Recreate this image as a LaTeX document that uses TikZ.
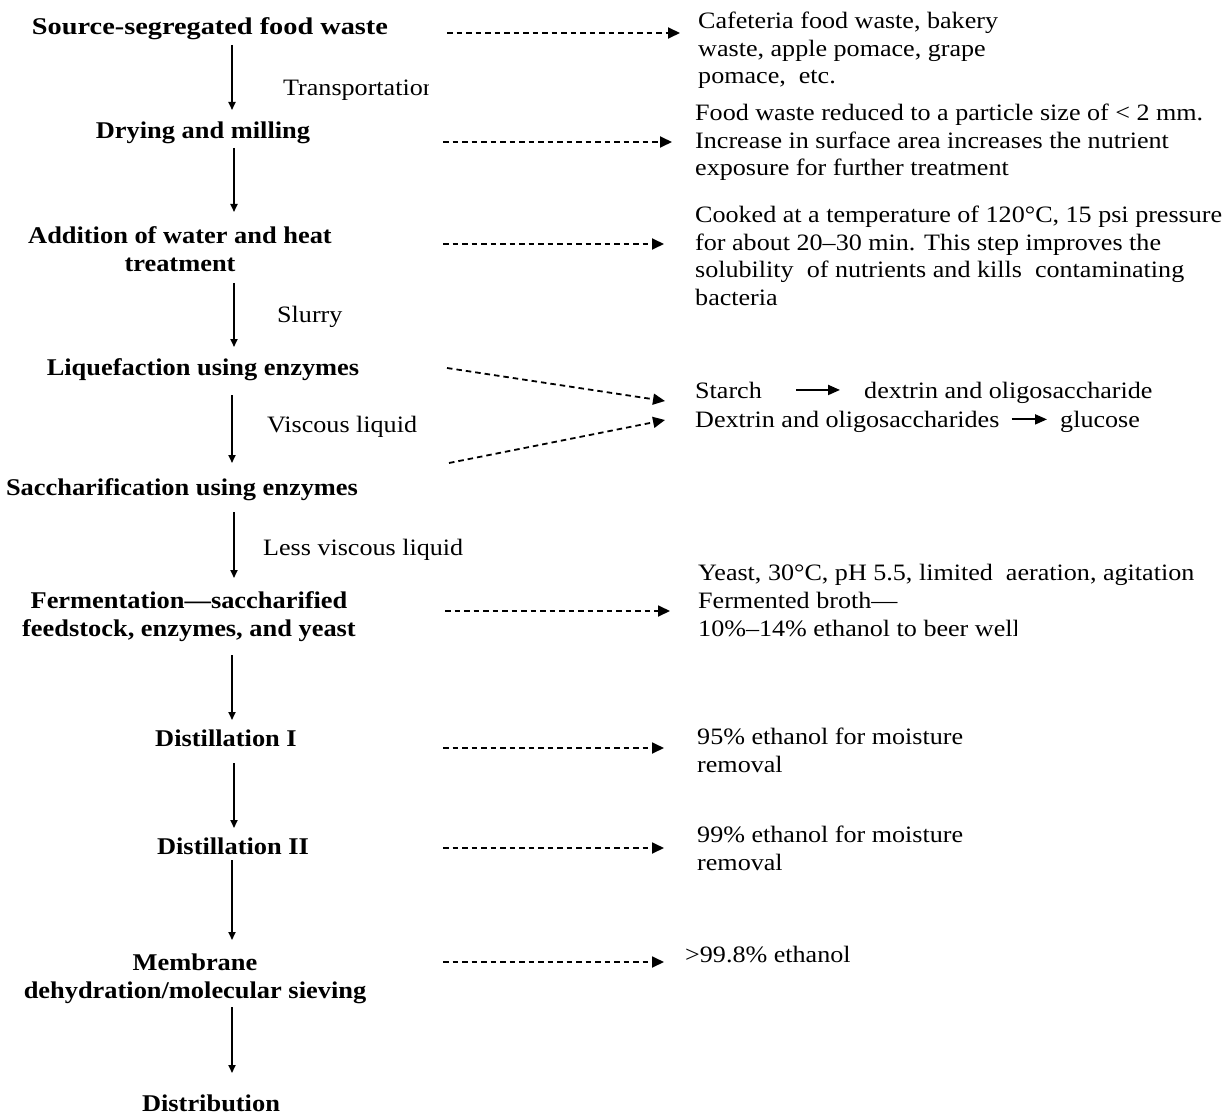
\documentclass[tikz,border=0pt]{standalone}
\usepackage{fontspec}
\setmainfont{Liberation Serif}
\newfontfamily\lfont[FakeStretch=1.10]{Liberation Serif}
\newfontfamily\lfontw[FakeStretch=1.18]{Liberation Serif}
\newfontfamily\rfont[FakeStretch=1.11]{Liberation Serif}
\usetikzlibrary{arrows.meta}
\begin{document}
\begin{tikzpicture}[x=1pt,y=-1pt,
  lbl/.style={font=\lfont\fontsize{24}{28}\selectfont\bfseries, align=center, inner sep=0pt},
  rtxt/.style={font=\rfont\fontsize{23.5}{27.6}\selectfont, align=left, inner sep=0pt, anchor=north west},
  elab/.style={font=\rfont\fontsize{23.5}{27}\selectfont, inner sep=0pt, anchor=base west},
  flow/.style={-{Triangle[length=8pt,width=7pt]}, line width=1.8pt},
  tflow/.style={-{Triangle[length=12pt,width=10pt]}, line width=2pt},
  dflow/.style={-{Triangle[length=12pt,width=11pt]}, line width=1.8pt, dash pattern=on 5.5pt off 4pt},
]
\useasboundingbox (0,0) rectangle (1231,1115);
\fill[white] (0,0) rectangle (1231,1115);

% left column
\node[lbl, font=\lfontw\fontsize{24}{28}\selectfont\bfseries] (n1) at (210,29) {Source-segregated food waste};
\node[lbl] (n2) at (203,133) {Drying and milling};
\node[lbl] (n3) at (180,249) {Addition of water and heat\\treatment};
\node[lbl] (n4) at (203,370) {Liquefaction using enzymes};
\node[lbl] (n5) at (182,490) {Saccharification using enzymes};
\node[lbl] (n6) at (189,617) {Fermentation—saccharified\\feedstock, enzymes, and yeast};
\node[lbl] (n7) at (226,738) {Distillation I};
\node[lbl] (n8) at (233,846) {Distillation II};
\node[lbl] (n9) at (195,979) {Membrane\\dehydration/molecular sieving};
\node[lbl] (n10) at (211,1103) {Distribution};

\coordinate (ax) at (232,0);
\coordinate (bx) at (234,0);

\draw[flow, shorten <=16pt, shorten >=23pt] (n1.center -| ax) -- (n2.center -| ax);
\draw[flow, shorten <=15pt, shorten >=37pt] (n2.center -| bx) -- (n3.center -| bx);
\draw[flow, shorten <=34pt, shorten >=23pt] (n3.center -| bx) -- (n4.center -| bx);
\draw[flow, shorten <=25pt, shorten >=27pt] (n4.center -| ax) -- (n5.center -| ax);
\draw[flow, shorten <=22pt, shorten >=39pt] (n5.center -| bx) -- (n6.center -| bx);
\draw[flow, shorten <=38pt, shorten >=18pt] (n6.center -| ax) -- (n7.center -| ax);
\draw[flow, shorten <=25pt, shorten >=18pt] (n7.center -| bx) -- (n8.center -| bx);
\draw[flow, shorten <=14pt, shorten >=39pt] (n8.center -| ax) -- (n9.center -| ax);
\draw[flow, shorten <=28pt, shorten >=30pt] (n9.center -| ax) -- (n10.center -| ax);

% arrow labels
\begin{scope}
\clip (270,60) rectangle (428,110);
\node[elab] (l1) at (283,96) {Transportation};
\end{scope}
\node[elab] (l2) at (277,322) {Slurry};
\node[elab] (l3) at (267,432) {Viscous liquid};
\node[elab] (l4) at (263,555) {Less viscous liquid};

% right column
\node[rtxt] (r1) at (698,12) {Cafeteria food waste, bakery\\waste, apple pomace, grape\\pomace,\ \ etc.};
\node[rtxt] (r2) at (695,104) {Food waste reduced to a particle size of < 2 mm.\\Increase in surface area increases the nutrient\\exposure for further treatment};
\begin{scope}
\clip (600,190) rectangle (1231,320);
\node[rtxt] (r3) at (695,206) {Cooked at a temperature of 120°C, 15 psi pressure\\for about 20–30 min. This step improves the\\solubility\ \ of nutrients and kills\ \ contaminating\\bacteria};
\end{scope}
\node[elab] (s1) at (695,398) {Starch};
\node[elab] (s2) at (864,398) {dextrin and oligosaccharide};
\node[elab] (s3) at (695,427) {Dextrin and oligosaccharides};
\node[elab] (s4) at (1060,427) {glucose};
\draw[tflow, shorten <=34pt, shorten >=24pt] (s1.east) -- (s2.west |- s1.east);
\draw[tflow, shorten <=12pt, shorten >=13pt] ([yshift=2pt]s3.east) -- ([yshift=2pt]s4.west);
\node[rtxt] (r5) at (698,564) {Yeast, 30°C, pH 5.5, limited\ \ aeration, agitation\\Fermented broth—};
\begin{scope}
\clip (600,612) rectangle (1016,650);
\node[elab] (r5b) at (698,636) {10\%–14\% ethanol to beer well};
\end{scope}
\node[rtxt] (r6) at (697,728) {95\% ethanol for moisture\\removal};
\node[rtxt] (r7) at (697,826) {99\% ethanol for moisture\\removal};
\node[rtxt] (r8) at (685,946) {>99.8\% ethanol};

% dashed connectors
\coordinate (d1) at (447,33); \coordinate (e1) at (680,33);
\coordinate (d2) at (443,142); \coordinate (e2) at (672,142);
\coordinate (d3) at (443,244); \coordinate (e3) at (664,244);
\coordinate (d4) at (447,368); \coordinate (e4) at (665,401);
\coordinate (d5) at (449,463); \coordinate (e5) at (665,420);
\coordinate (d6) at (445,611); \coordinate (e6) at (670,611);
\coordinate (d7) at (443,748); \coordinate (e7) at (664,748);
\coordinate (d8) at (443,848); \coordinate (e8) at (664,848);
\coordinate (d9) at (443,962); \coordinate (e9) at (664,962);
\foreach \i in {1,...,9} { \draw[dflow] (d\i) -- (e\i); }
\end{tikzpicture}
\end{document}
